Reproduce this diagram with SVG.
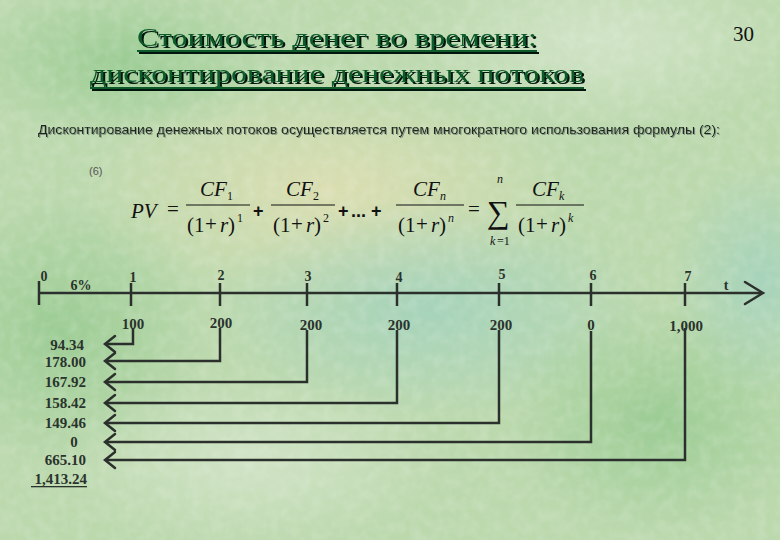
<svg xmlns="http://www.w3.org/2000/svg" width="780" height="540" viewBox="0 0 780 540">
<defs>
<style>
.title{font-family:"Liberation Serif",serif;font-size:25px;fill:#0e5a2a}
.sub{font-family:"Liberation Sans",sans-serif;font-size:12.5px;fill:#1c261c}
.f{font-family:"Liberation Serif",serif;font-size:21px;fill:#111}
.fi{font-family:"Liberation Serif",serif;font-size:21px;font-style:italic;fill:#111}
.fs{font-family:"Liberation Serif",serif;font-size:12px;fill:#111}
.fsi{font-family:"Liberation Serif",serif;font-size:12px;font-style:italic;fill:#111}
.fb{font-family:"Liberation Sans",sans-serif;font-size:18px;font-weight:bold;fill:#111}
.lab{font-family:"Liberation Serif",serif;font-size:15px;font-weight:bold;fill:#2a332c}
.tick{font-family:"Liberation Serif",serif;font-size:14px;font-weight:bold;fill:#2a332c}
.ln{stroke:#2b302c;stroke-width:2.5;fill:none}
.arr{stroke:#2b302c;stroke-width:2.5;fill:none;stroke-linecap:round;stroke-linejoin:miter}
</style>
<filter id="tsh" x="-5%" y="-20%" width="110%" height="150%">
<feDropShadow dx="2" dy="2" stdDeviation="0.3" flood-color="#061208" flood-opacity="1"/>
</filter>
<filter id="ssh" x="-2%" y="-30%" width="104%" height="160%">
<feDropShadow dx="1" dy="1" stdDeviation="0.3" flood-color="#7d8d7d" flood-opacity="0.9"/>
</filter>
<radialGradient id="g1" cx="0.5" cy="0.5" r="0.5"><stop offset="0" stop-color="#e2dfb2" stop-opacity="0.8"/><stop offset="1" stop-color="#e2dfb2" stop-opacity="0"/></radialGradient>
<radialGradient id="g2" cx="0.5" cy="0.5" r="0.5"><stop offset="0" stop-color="#9fd1bf" stop-opacity="0.75"/><stop offset="1" stop-color="#9fd1bf" stop-opacity="0"/></radialGradient>
<radialGradient id="g3" cx="0.5" cy="0.5" r="0.5"><stop offset="0" stop-color="#94c98e" stop-opacity="0.8"/><stop offset="1" stop-color="#94c98e" stop-opacity="0"/></radialGradient>
<radialGradient id="g4" cx="0.5" cy="0.5" r="0.5"><stop offset="0" stop-color="#d6e6cc" stop-opacity="0.8"/><stop offset="1" stop-color="#d6e6cc" stop-opacity="0"/></radialGradient>
<filter id="tex" x="0" y="0" width="100%" height="100%">
<feTurbulence type="fractalNoise" baseFrequency="0.09" numOctaves="2" seed="4"/>
<feColorMatrix type="matrix" values="0 0 0 0 1  0 0 0 0 1  0 0 0 0 1  0 0 0 -1.6 1.0"/>
</filter>
</defs>
<rect width="780" height="540" fill="#bcd9ae"/>
<ellipse cx="330" cy="190" rx="260" ry="120" fill="url(#g1)"/>
<ellipse cx="600" cy="40" rx="200" ry="90" fill="url(#g4)"/>
<ellipse cx="430" cy="310" rx="220" ry="110" fill="url(#g2)"/>
<ellipse cx="60" cy="330" rx="150" ry="140" fill="url(#g3)"/>
<ellipse cx="250" cy="460" rx="200" ry="90" fill="url(#g4)"/>
<ellipse cx="660" cy="420" rx="160" ry="120" fill="url(#g3)"/>
<ellipse cx="760" cy="280" rx="90" ry="120" fill="url(#g2)"/>
<ellipse cx="120" cy="60" rx="160" ry="80" fill="url(#g3)"/>
<rect width="780" height="540" filter="url(#tex)" opacity="0.18"/>

<g id="title" filter="url(#tsh)">
<text class="title" x="137" y="46" textLength="400" lengthAdjust="spacingAndGlyphs">Стоимость денег во времени:</text>
<rect x="137" y="50" width="400" height="2" fill="#0e5a2a"/>
<text class="title" x="90" y="82" textLength="494" lengthAdjust="spacingAndGlyphs">дисконтирование денежных потоков</text>
<rect x="90" y="87" width="494" height="2" fill="#0e5a2a"/>
</g>
<g id="page"><text x="733" y="41" font-family="Liberation Serif, serif" font-size="21" fill="#111">30</text></g>

<g id="subtitle" filter="url(#ssh)">
<text class="sub" x="38" y="134" textLength="682" lengthAdjust="spacingAndGlyphs">Дисконтирование денежных потоков осуществляется путем многократного использования формулы (2):</text>
</g>

<g id="formula">
<text x="89" y="175" font-family="Liberation Sans, sans-serif" font-size="11" fill="#555">(6)</text>
<text class="fi" x="131" y="218">PV</text>
<text class="f" x="167" y="216">=</text>
<!-- frac 1 -->
<text class="fi" x="200" y="196">CF</text><text class="fs" x="227" y="200">1</text>
<line x1="186" y1="205" x2="250" y2="205" stroke="#111" stroke-width="1"/>
<text class="f" x="187" y="232">(1</text><text class="f" x="205" y="231">+</text><text class="fi" x="220" y="232">r</text><text class="f" x="228" y="232">)</text><text class="fs" x="237" y="222">1</text>
<text class="fb" x="253" y="217">+</text>
<!-- frac 2 -->
<text class="fi" x="286" y="196">CF</text><text class="fs" x="313" y="200">2</text>
<line x1="271" y1="205" x2="335" y2="205" stroke="#111" stroke-width="1"/>
<text class="f" x="273" y="232">(1</text><text class="f" x="291" y="231">+</text><text class="fi" x="306" y="232">r</text><text class="f" x="314" y="232">)</text><text class="fs" x="323" y="222">2</text>
<text class="fb" x="338" y="217">+</text>
<text class="fb" x="351" y="217">...</text>
<text class="fb" x="371" y="217">+</text>
<!-- frac n -->
<text class="fi" x="413" y="196">CF</text><text class="fsi" x="440" y="200">n</text>
<line x1="396" y1="205" x2="464" y2="205" stroke="#111" stroke-width="1"/>
<text class="f" x="398" y="232">(1</text><text class="f" x="416" y="231">+</text><text class="fi" x="431" y="232">r</text><text class="f" x="439" y="232">)</text><text class="fsi" x="448" y="222">n</text>
<text class="f" x="468" y="216">=</text>
<!-- sigma -->
<text x="487" y="223" font-family="Liberation Serif, serif" font-size="32" fill="#111">∑</text>
<text class="fsi" x="497" y="183">n</text>
<text class="fsi" x="490" y="245">k</text><text class="fs" x="497" y="245">=1</text>
<!-- frac k -->
<text class="fi" x="532" y="196">CF</text><text class="fsi" x="559" y="200">k</text>
<line x1="516" y1="205" x2="584" y2="205" stroke="#111" stroke-width="1"/>
<text class="f" x="518" y="232">(1</text><text class="f" x="536" y="231">+</text><text class="fi" x="551" y="232">r</text><text class="f" x="559" y="232">)</text><text class="fsi" x="568" y="222">k</text>
</g>

<g id="timeline">
<line class="ln" x1="39" y1="293" x2="762" y2="293"/>
<polyline class="arr" points="745,282 763,293 745,304"/>
<line class="ln" x1="39" y1="281" x2="39" y2="305"/>
<line class="ln" x1="131" y1="283" x2="131" y2="306"/>
<line class="ln" x1="220" y1="283" x2="220" y2="306"/>
<line class="ln" x1="307" y1="283" x2="307" y2="306"/>
<line class="ln" x1="397" y1="283" x2="397" y2="306"/>
<line class="ln" x1="499" y1="283" x2="499" y2="306"/>
<line class="ln" x1="591" y1="283" x2="591" y2="306"/>
<line class="ln" x1="685" y1="283" x2="685" y2="306"/>
<text class="tick" x="44" y="281" text-anchor="middle">0</text>
<text class="tick" x="133" y="282" text-anchor="middle">1</text>
<text class="tick" x="221" y="280" text-anchor="middle">2</text>
<text class="tick" x="308" y="281" text-anchor="middle">3</text>
<text class="tick" x="399" y="282" text-anchor="middle">4</text>
<text class="tick" x="502" y="279" text-anchor="middle">5</text>
<text class="tick" x="593" y="280" text-anchor="middle">6</text>
<text class="tick" x="688" y="281" text-anchor="middle">7</text>
<text class="tick" x="81" y="290" text-anchor="middle">6%</text>
<text class="tick" x="726" y="290" text-anchor="middle">t</text>
</g>

<g id="cashflows">
<text class="lab" x="133" y="329" text-anchor="middle">100</text>
<text class="lab" x="221" y="328" text-anchor="middle">200</text>
<text class="lab" x="311" y="330" text-anchor="middle">200</text>
<text class="lab" x="399" y="330" text-anchor="middle">200</text>
<text class="lab" x="501" y="330" text-anchor="middle">200</text>
<text class="lab" x="591" y="330" text-anchor="middle">0</text>
<text class="lab" x="686" y="331" text-anchor="middle">1,000</text>
</g>

<g id="connectors">
<polyline class="ln" points="133,328 133,344 106,344"/>
<polyline class="ln" points="220,328 220,361 106,361"/>
<polyline class="ln" points="307,330 307,382 106,382"/>
<polyline class="ln" points="397,330 397,403 106,403"/>
<polyline class="ln" points="499,330 499,423 106,423"/>
<polyline class="ln" points="591,331 591,442 106,442"/>
<polyline class="ln" points="685,328 685,460 106,460"/>
<polyline class="arr" points="115,336 105,344 115,352"/>
<polyline class="arr" points="115,353 105,361 115,369"/>
<polyline class="arr" points="115,374 105,382 115,390"/>
<polyline class="arr" points="115,395 105,403 115,411"/>
<polyline class="arr" points="115,415 105,423 115,431"/>
<polyline class="arr" points="115,434 105,442 115,450"/>
<polyline class="arr" points="115,452 105,460 115,468"/>
</g>

<g id="results">
<text class="lab" x="84" y="350" text-anchor="end">94.34</text>
<text class="lab" x="86" y="367" text-anchor="end">178.00</text>
<text class="lab" x="86" y="387" text-anchor="end">167.92</text>
<text class="lab" x="86" y="408" text-anchor="end">158.42</text>
<text class="lab" x="86" y="428" text-anchor="end">149.46</text>
<text class="lab" x="74" y="447" text-anchor="middle">0</text>
<text class="lab" x="86" y="465" text-anchor="end">665.10</text>
<text class="lab" x="87" y="484" text-anchor="end">1,413.24</text>
<rect x="31" y="486" width="56" height="1.3" fill="#2a332c"/>
</g>
</svg>
